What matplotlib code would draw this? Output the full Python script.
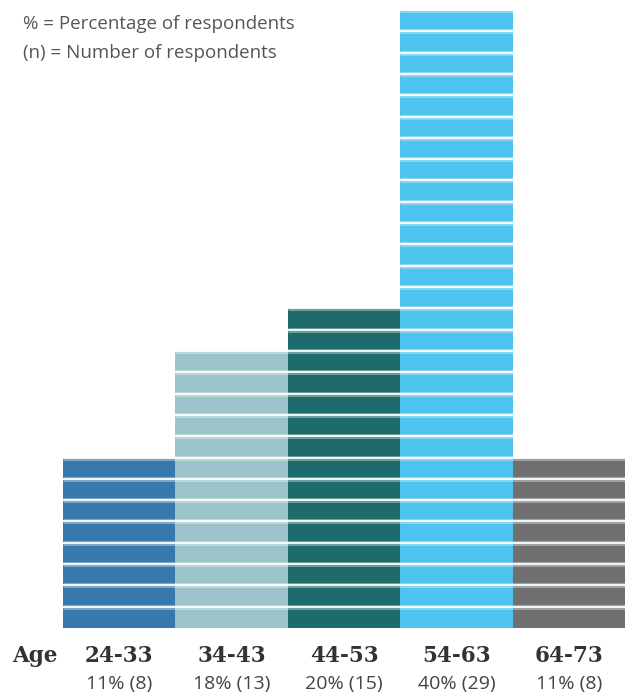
import numpy as np
import matplotlib.pyplot as plt
from matplotlib import transforms

ages = ['24-33', '34-43', '44-53', '54-63', '64-73']
counts = [8, 13, 15, 29, 8]
percents = [11, 18, 20, 40, 11]
colors = ['#3878AD', '#9BC4CA', '#1D6B6A', '#4EC3EE', '#707070']

fig = plt.figure(figsize=(6.25, 6.96), dpi=100)
ax = fig.add_axes([63 / 625, 1 - 628 / 696, 1 - 63 / 625, (628 - 10) / 696])

x = np.arange(len(ages))
ax.bar(x, counts, width=1.0, color=colors, linewidth=0)

# one white stripe per respondent
for xi, n in zip(x, counts):
    ys = np.arange(1, n + 1)
    ax.hlines(ys, xi - 0.5, xi + 0.5, colors='white', linewidth=3.6, alpha=0.35)
    ax.hlines(ys, xi - 0.5, xi + 0.5, colors='white', linewidth=1.4, alpha=0.9)

ax.set_xlim(-0.5, len(ages) - 0.5)
ax.set_ylim(0, max(counts))
ax.axis('off')

trans = transforms.blended_transform_factory(ax.transData, fig.transFigure)
for xi, a, p, n in zip(x, ages, percents, counts):
    ax.text(xi, 1 - 656 / 696, a, transform=trans, ha='center', va='center',
            fontsize=15.5, fontweight='bold', family='DejaVu Serif', color='#333333')
    ax.text(xi, 1 - 684 / 696, f'{p}% ({n})', transform=trans, ha='center', va='center',
            fontsize=14, family='Open Sans', color='#444444')
fig.text(12 / 625, 1 - 656 / 696, 'Age', ha='left', va='center', fontsize=15.5,
         fontweight='bold', family='DejaVu Serif', color='#333333')

fig.text(23 / 625, 1 - 24 / 696, '% = Percentage of respondents', ha='left', va='center',
         fontsize=13.5, family='Open Sans', color='#555555')
fig.text(23 / 625, 1 - 53 / 696, '(n) = Number of respondents', ha='left', va='center',
         fontsize=13.5, family='Open Sans', color='#555555')

fig.savefig('out.png', dpi=100)
